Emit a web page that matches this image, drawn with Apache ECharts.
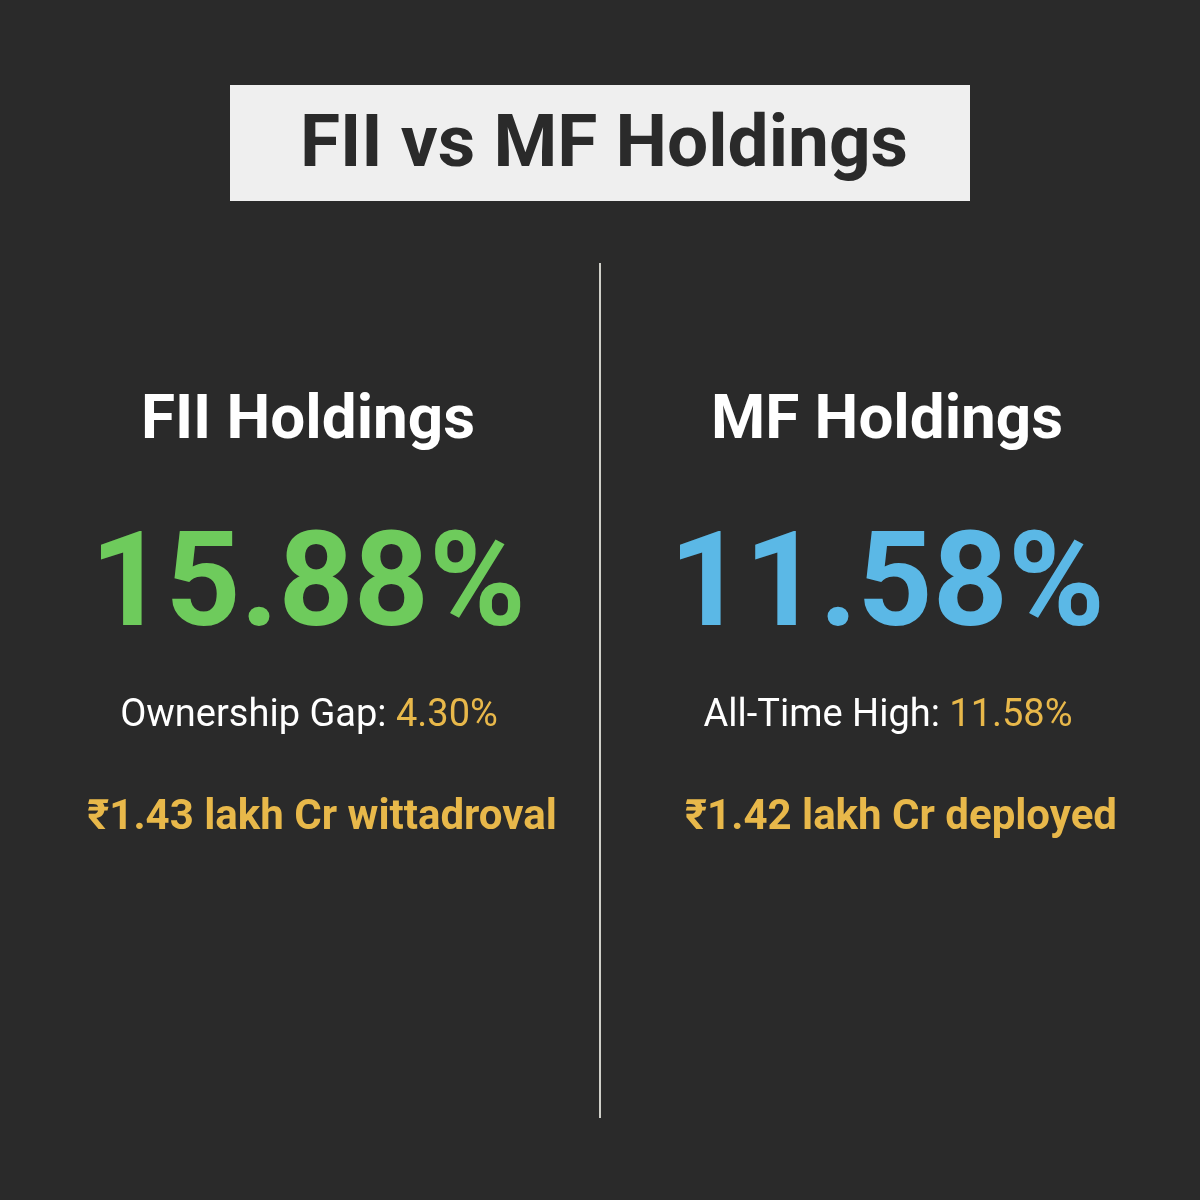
<!DOCTYPE html>
<html><head><meta charset="utf-8">
<script src="https://cdn.jsdelivr.net/npm/echarts@6/dist/echarts.min.js"></script>
<style>html,body{margin:0;padding:0;background:#2a2a2a}#c{width:1200px;height:1200px}</style>
</head><body><div id="c"></div>
<script>
const title = "FII vs MF Holdings";
const panelTitles = ["FII Holdings", "MF Holdings"];
const values = [15.88, 11.58];
const subLabels = ["Ownership Gap: ", "All-Time High: "];
const subValues = ["4.30%", "11.58%"];
const footers = ["₹1.43 lakh Cr wittadroval", "₹1.42 lakh Cr deployed"];
const valueColors = ["#6ecb5c", "#5bb8e6"];

const chart = echarts.init(document.getElementById('c'));
const centers = [308, 887];
const els = [
  {type:'rect', shape:{x:230,y:85,width:740,height:116}, style:{fill:'#efefef'}},
  {type:'text', x:604, y:148, style:{text:title, font:'bold 73px Roboto', fill:'#2a2a2a', align:'center', verticalAlign:'middle'}},
  {type:'line', shape:{x1:600,y1:263,x2:600,y2:1118}, style:{stroke:'#cfcfc8', lineWidth:2}}
];
centers.forEach((cx,i)=>{
  els.push({type:'text', x:cx, y:422, style:{text:panelTitles[i], font:'bold 62px Roboto', fill:'#ffffff', align:'center', verticalAlign:'middle'}});
  els.push({type:'text', x:cx, y:592, style:{text:values[i].toFixed(2)+'%', font:'bold 131px Roboto', fill:valueColors[i], align:'center', verticalAlign:'middle'}});
  els.push({type:'text', x:cx+1, y:716, style:{text:'{a|'+subLabels[i]+'}{b|'+subValues[i]+'}', align:'center', verticalAlign:'middle',
    rich:{a:{font:'38px Roboto', fill:'#ffffff'}, b:{font:'38px Roboto', fill:'#e8b84a'}}}});
  els.push({type:'text', x:cx+14, y:818, style:{text:footers[i], font:'bold 42px Roboto', fill:'#e8b84a', align:'center', verticalAlign:'middle'}});
});
chart.setOption({backgroundColor:'#2a2a2a', graphic:{elements:els}});
</script></body></html>
